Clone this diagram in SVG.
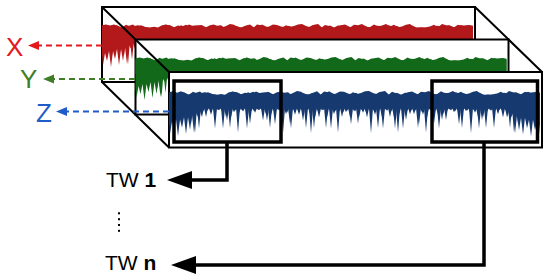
<svg xmlns="http://www.w3.org/2000/svg" xmlns:xlink="http://www.w3.org/1999/xlink" width="550" height="279" viewBox="0 0 550 279">
<style>
.frame{fill:#fff;stroke:#000;stroke-width:2}
.edge{fill:none;stroke:#000;stroke-width:2}
.tw{fill:none;stroke:#000;stroke-width:3.5}
.conn{fill:none;stroke:#000;stroke-width:3.5}
.dash{fill:none;stroke-width:2;stroke-dasharray:6 4}
.axis{font-family:"Liberation Sans",Arial,sans-serif;font-size:26px}
.lbl{font-family:"Liberation Sans",Arial,sans-serif;font-size:21px;fill:#000}
</style>
<defs>
<path id="wave" d="M0,0.2 L4,-0.6 8,0.6 12,-0.6 16,1 20,2.6 24,-0.2 28,1.4 32,1 36,0.2 40,1 44,2.2 48,2.6 52,1.8 56,2.6 60,0.2 64,-0.2 68,0.2 72,2.2 76,0.6 80,1.4 84,-0.2 88,1.4 92,0.6 96,0.2 100,0.2 104,2.2 108,0.2 112,-0.2 116,1.8 120,2.6 124,1 128,-1 132,-0.2 136,2.2 140,2.2 144,0.6 148,-0.6 152,2.6 156,1.8 160,-0.6 164,1.4 168,2.6 172,0.2 176,2.6 180,2.6 184,0.2 188,1.8 192,1 196,-0.6 200,-1 204,1 208,2.2 212,-0.2 216,-1 220,2.6 224,1.8 228,0.6 232,2.6 236,0.6 240,0.6 244,1 248,2.6 252,-0.2 256,0.2 260,-1 264,1.8 268,2.2 272,-0.6 276,1.4 280,0.6 284,-1 288,1.4 292,-0.2 296,2.2 300,1.4 304,-0.2 308,-1 312,2.2 316,2.6 320,2.6 324,2.2 328,1.4 332,-0.2 336,2.2 340,-1 344,0.2 348,0.6 352,2.2 356,-0.2 360,1 364,0.2 368,0.6 371,1.5 371,15 L369,17.3 367,15 365,17.3 363,15 361,30.2 359,15 357,17 355,15 353,26.7 351,15 349,30.2 347,15 345,38.9 343,15 341,34.3 339,15 337,18.1 335,15 333,17.3 331,15 329,21.3 327,15 325,34.3 323,15 321,17 319,15 317,34.3 315,15 313,26.7 311,15 309,23.8 307,15 305,17.3 303,15 301,19.4 299,15 297,18.1 295,15 293,34.3 291,15 289,18.1 287,15 285,19.4 283,15 281,17 279,15 277,26.7 275,15 273,26.7 271,15 269,21.3 267,15 265,30.2 263,15 261,17 259,15 257,38.9 255,15 253,19.4 251,15 249,34.3 247,15 245,21.3 243,15 241,21.3 239,15 237,26.7 235,15 233,17 231,15 229,38.9 227,15 225,23.8 223,15 221,23.8 219,15 217,17 215,15 213,23.8 211,15 209,34.3 207,15 205,18.1 203,15 201,18.1 199,15 197,19.4 195,15 193,17.3 191,15 189,30.2 187,15 185,18.1 183,15 181,23.8 179,15 177,19.4 175,15 173,23.8 171,15 169,38.9 167,15 165,21.3 163,15 161,17 159,15 157,34.3 155,15 153,17.3 151,15 149,18.1 147,15 145,34.3 143,15 141,21.3 139,15 137,34.3 135,15 133,17.3 131,15 129,17.3 127,15 125,17.3 123,15 121,30.2 119,15 117,21.3 115,15 113,23.8 111,15 109,17 107,15 105,18.1 103,15 101,34.3 99,15 97,21.3 95,15 93,17.3 91,15 89,17 87,15 85,18.1 83,15 81,30.2 79,15 77,17 75,15 73,17.3 71,15 69,38.9 67,15 65,19.4 63,15 61,34.3 59,15 57,23.8 55,15 53,18.1 51,15 49,17.3 47,15 45,17.3 43,15 41,17 39,15 37,23.8 35,15 33,23.8 31,18 29,23.8 27,20 25,38.9 23,22 21,36 19,24 17,40 15,24 13,34 11,26 9,42 7,26 5,36 3,28 1,40 0,30 Z"/>
</defs>

<g id="layer-x">
<rect class="frame" x="102" y="7" width="373" height="75"/>
<g fill="#b3181b">
<use xlink:href="#wave" href="#wave" x="102" y="25"/>
<use xlink:href="#wave" href="#wave" transform="translate(473,25.5) scale(-1,1)"/>
</g>
</g>
<g id="layer-y">
<rect class="frame" x="135.5" y="39.5" width="373" height="75"/>
<g fill="#13691a">
<use xlink:href="#wave" href="#wave" x="135.5" y="58"/>
<use xlink:href="#wave" href="#wave" transform="translate(506.5,58.5) scale(-1,1)"/>
</g>
</g>
<g id="layer-z">
<rect class="frame" x="169" y="72" width="373" height="75.5"/>
<g fill="#163a70">
<use xlink:href="#wave" href="#wave" transform="translate(169,92) scale(1,1.05)"/>
<use xlink:href="#wave" href="#wave" transform="translate(540,92.5) scale(-1,1.05)"/>
</g>
</g>
<g id="box-edges">
<path class="edge" d="M102,7 L169,72 M102,82 L169,147.5 M475,7 L542,72"/>
</g>

<g id="window-1">
<rect class="tw" x="174" y="81" width="107" height="61"/>
</g>
<g id="window-n">
<rect class="tw" x="432" y="81" width="105.5" height="61"/>
</g>

<g id="connectors">
<path class="conn" d="M227,142 V180 H190"/>
<polygon points="167,180 192,171 192,189" fill="#000"/>
<path class="conn" d="M484,142 V265 H194"/>
<polygon points="171,265 196,256 196,274" fill="#000"/>
<line class="dash" x1="102" y1="45.5" x2="38" y2="45.5" stroke="#e3191e"/>
<polygon points="28,45.5 39,41 39,50" fill="#e3191e"/>
<line class="dash" x1="135" y1="79" x2="53" y2="79" stroke="#3f7d26"/>
<polygon points="43,79 54,74.5 54,83.5" fill="#3f7d26"/>
<line class="dash" x1="169" y1="111.5" x2="66" y2="111.5" stroke="#1f5cc8"/>
<polygon points="56,111.5 67,107 67,116" fill="#1f5cc8"/>
</g>

<g id="label-x"><text class="axis" x="6" y="56" fill="#e3191e">X</text></g>
<g id="label-y"><text class="axis" x="20" y="88" fill="#3f7d26">Y</text></g>
<g id="label-z"><text class="axis" x="36" y="122" fill="#1f5cc8">Z</text></g>

<g id="label-tw1"><text class="lbl" x="106" y="187">TW <tspan font-weight="bold">1</tspan></text></g>
<g id="ellipsis">
<rect x="118" y="212.3" width="2" height="2" fill="#000"/>
<rect x="118" y="218.2" width="2" height="2" fill="#000"/>
<rect x="118" y="224" width="2" height="2" fill="#000"/>
<rect x="118" y="229.8" width="2" height="2" fill="#000"/>
</g>
<g id="label-twn"><text class="lbl" x="105" y="270">TW <tspan font-weight="bold">n</tspan></text></g>
</svg>
